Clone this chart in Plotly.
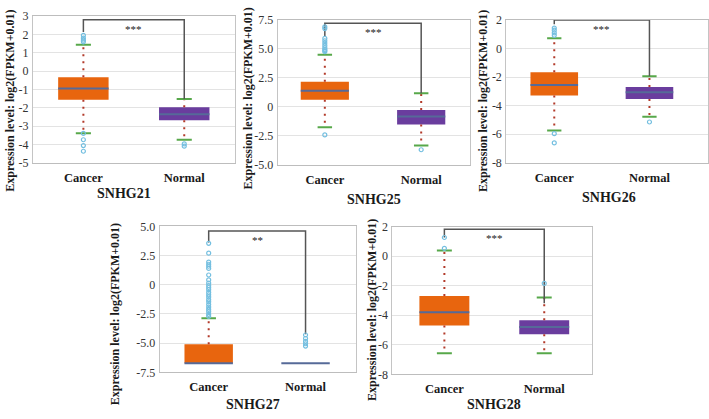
import plotly.graph_objects as go

W, H = 709, 419

genes = ["SNHG21", "SNHG25", "SNHG26", "SNHG27", "SNHG28"]
groups = ["Cancer", "Normal"]

# box statistics: [lower whisker, Q1, median, Q3, upper whisker]
snhg21_cancer = [-3.40, -1.57, -0.95, -0.34, 1.44]
snhg21_normal = [-3.75, -2.69, -2.36, -1.97, -1.52]
snhg25_cancer = [-1.75, 0.61, 1.38, 2.17, 4.50]
snhg25_normal = [-3.33, -1.53, -0.83, -0.28, 1.17]
snhg26_cancer = [-5.74, -3.30, -2.56, -1.67, 0.73]
snhg26_normal = [-4.79, -3.53, -3.07, -2.69, -1.95]
snhg27_cancer = [-6.72, -6.72, -6.72, -5.09, -2.86]
snhg27_normal = [-6.72, -6.72, -6.72, -6.72, -6.72]
snhg28_cancer = [-6.58, -4.69, -3.80, -2.69, 0.38]
snhg28_normal = [-6.58, -5.29, -4.80, -4.33, -2.80]

# outliers
snhg21_cancer_out = [1.95, 1.80, 1.69, 1.60, -3.40, -3.75, -4.07, -4.38]
snhg21_normal_out = [-3.98, -4.10]
snhg25_cancer_out = [6.90, 6.75, 5.90, 5.70, 5.50, 5.30, 5.10, 4.95, 4.85, 4.75, -2.42]
snhg25_normal_out = [-3.70]
snhg26_cancer_out = [1.44, 1.29, 1.10, 0.93, -5.97, -6.62]
snhg26_normal_out = [-5.15]
snhg27_cancer_out = [3.55, 2.71, 1.95, 1.76, 1.59, 1.40, 0.84, 0.42, 0.14, -0.06,
                     -0.23, -0.42, -0.65, -0.85, -1.04, -1.27, -1.46, -1.69, -1.91,
                     -2.11, -2.30, -2.53, -2.70]
snhg27_normal_out = [-4.30, -4.60, -4.85, -5.05, -5.25]
snhg28_cancer_out = [1.27, 0.53]
snhg28_normal_out = [-1.84]

# significance brackets
sig_labels = ["***", "***", "***", "**", "***"]
bracket_top = [2.80, 7.20, 2.00, 4.60, 1.82]
bracket_left_end = [2.13, 6.10, 1.70, 3.63, 1.27]
bracket_right_end = [-1.52, 1.17, -1.95, -4.23, -3.18]

# y-axis ticks
snhg21_ticks = [3, 2, 1, 0, -1, -2, -3, -4, -5]
snhg21_ticktext = ["3", "2", "1", "0", "-1", "-2", "-3", "-4", "-5"]
snhg25_ticks = [7.5, 5.0, 2.5, 0, -2.5, -5.0]
snhg25_ticktext = ["7.5", "5.0", "2.5", "0", "-2.5", "-5.0"]
snhg26_ticks = [2, 0, -2, -4, -6, -8]
snhg26_ticktext = ["2", "0", "-2", "-4", "-6", "-8"]
snhg27_ticks = [5.0, 2.5, 0, -2.5, -5.0, -7.5]
snhg27_ticktext = ["5.0", "2.5", "0", "-2.5", "-5.0", "-7.5"]
snhg28_ticks = [2, 0, -2, -4, -6, -8]
snhg28_ticktext = ["2", "0", "-2", "-4", "-6", "-8"]

ylabel = "Expression level: log2(FPKM+0.01)"

stats = [(snhg21_cancer, snhg21_normal), (snhg25_cancer, snhg25_normal),
         (snhg26_cancer, snhg26_normal), (snhg27_cancer, snhg27_normal),
         (snhg28_cancer, snhg28_normal)]
outs = [(snhg21_cancer_out, snhg21_normal_out), (snhg25_cancer_out, snhg25_normal_out),
        (snhg26_cancer_out, snhg26_normal_out), (snhg27_cancer_out, snhg27_normal_out),
        (snhg28_cancer_out, snhg28_normal_out)]
ticks = [(snhg21_ticks, snhg21_ticktext), (snhg25_ticks, snhg25_ticktext),
         (snhg26_ticks, snhg26_ticktext), (snhg27_ticks, snhg27_ticktext),
         (snhg28_ticks, snhg28_ticktext)]

# layout (pixels): x domain, y domain (top, bottom), x range, y range
panels = [
    dict(xd=(33, 235), yd=(9.5, 161), xr=(-0.5, 1.5), yr=(-5, 3),
         ylab=(10, 97), title=(124, 193)),
    dict(xd=(278, 471), yd=(13.3, 163.3), xr=(-0.49, 1.51), yr=(-5, 7.5),
         ylab=(248, 95), title=(375, 199)),
    dict(xd=(507, 709), yd=(13.5, 161), xr=(-0.504, 1.615), yr=(-8, 2),
         ylab=(483, 97), title=(610, 197)),
    dict(xd=(160, 357), yd=(227, 378), xr=(-0.505, 1.526), yr=(-7.5, 5),
         ylab=(116, 318), title=(253, 411)),
    dict(xd=(393, 593), yd=(227.3, 380), xr=(-0.52, 1.48), yr=(-8, 2),
         ylab=(372, 313), title=(495, 411)),
]

box_colors = ["#E8650E", "#6A3D9E"]
median_color = "#566A98"
whisker_color = "#B23A2A"
cap_color = "#57A84A"
outlier_color = "#74BFE0"
bracket_color = "#555555"
font_serif = "'Liberation Serif', 'Times New Roman', 'DejaVu Serif', serif"

BOX_W = 0.5
CAP_HW = 0.075

fig = go.Figure()
layout = dict(width=W, height=H, margin=dict(l=0, r=0, t=0, b=0),
              paper_bgcolor="white", plot_bgcolor="white", showlegend=False,
              annotations=[])

for i, p in enumerate(panels):
    n = i + 1
    xa, ya = f"x{n}", f"y{n}"
    (c_st, n_st) = stats[i]
    xs = [0, 1]
    sts = [c_st, n_st]

    # whiskers (dotted)
    wx, wy = [], []
    for x, s in zip(xs, sts):
        if s[4] > s[3]:
            wx += [x, x, None]
            wy += [s[3], s[4], None]
        if s[0] < s[1]:
            wx += [x, x, None]
            wy += [s[1], s[0], None]
    fig.add_trace(go.Scatter(x=wx, y=wy, mode="lines", xaxis=xa, yaxis=ya,
                             line=dict(color=whisker_color, width=2, dash="2px,5px"),
                             hoverinfo="skip"))
    # boxes
    fig.add_trace(go.Bar(x=xs, y=[s[3] - s[1] for s in sts], base=[s[1] for s in sts],
                         width=BOX_W, marker=dict(color=box_colors, line=dict(width=0)),
                         xaxis=xa, yaxis=ya, hoverinfo="skip"))
    # caps
    cx, cy = [], []
    for x, s in zip(xs, sts):
        if s[4] > s[3]:
            cx += [x - CAP_HW, x + CAP_HW, None]
            cy += [s[4], s[4], None]
        if s[0] < s[1]:
            cx += [x - CAP_HW, x + CAP_HW, None]
            cy += [s[0], s[0], None]
    fig.add_trace(go.Scatter(x=cx, y=cy, mode="lines", xaxis=xa, yaxis=ya,
                             line=dict(color=cap_color, width=2), hoverinfo="skip"))
    # medians
    mx, my = [], []
    for x, s in zip(xs, sts):
        mx += [x - BOX_W / 2, x + BOX_W / 2, None]
        my += [s[2], s[2], None]
    fig.add_trace(go.Scatter(x=mx, y=my, mode="lines", xaxis=xa, yaxis=ya,
                             line=dict(color=median_color, width=2), hoverinfo="skip"))
    # bracket
    fig.add_trace(go.Scatter(x=[0, 0, 1, 1],
                             y=[bracket_left_end[i], bracket_top[i], bracket_top[i],
                                bracket_right_end[i]],
                             mode="lines", xaxis=xa, yaxis=ya,
                             line=dict(color=bracket_color, width=1.5), hoverinfo="skip"))
    # outliers
    ox, oy = [], []
    for x, o in zip(xs, outs[i]):
        ox += [x] * len(o)
        oy += o
    fig.add_trace(go.Scatter(x=ox, y=oy, mode="markers", xaxis=xa, yaxis=ya,
                             marker=dict(symbol="circle-open", size=4, color=outlier_color,
                                         line=dict(width=1.2)),
                             hoverinfo="skip"))

    xkey = "xaxis" if n == 1 else f"xaxis{n}"
    ykey = "yaxis" if n == 1 else f"yaxis{n}"
    layout[xkey] = dict(domain=[p["xd"][0] / W, p["xd"][1] / W], anchor=ya,
                        range=list(p["xr"]), tickvals=[0, 1],
                        ticktext=[f"<b>{g}</b>" for g in groups],
                        ticks="outside", ticklen=3, tickcolor="rgba(0,0,0,0)",
                        tickfont=dict(family=font_serif, size=12.5, color="#1a1a1a"),
                        showgrid=False, zeroline=False, showline=True, mirror=True,
                        linecolor="#BDBDBD", linewidth=1, fixedrange=True)
    layout[ykey] = dict(domain=[1 - p["yd"][1] / H, 1 - p["yd"][0] / H], anchor=xa,
                        range=list(p["yr"]), tickvals=ticks[i][0], ticktext=ticks[i][1],
                        ticks="outside", ticklen=1, tickcolor="rgba(0,0,0,0)",
                        tickfont=dict(family=font_serif, size=12, color="#333333"),
                        showgrid=True, gridcolor="#E3E3E3", gridwidth=1,
                        zeroline=False, showline=True, mirror=True,
                        linecolor="#C4C4C4", linewidth=1, fixedrange=True)

    layout["annotations"].append(dict(
        text=f"<b>{ylabel}</b>", textangle=-90, xref="paper", yref="paper",
        x=p["ylab"][0] / W, y=1 - p["ylab"][1] / H, xanchor="center", yanchor="middle",
        showarrow=False, font=dict(family=font_serif, size=12, color="#1a1a1a")))
    layout["annotations"].append(dict(
        text=f"<b>{genes[i]}</b>", xref="paper", yref="paper",
        x=p["title"][0] / W, y=1 - p["title"][1] / H, xanchor="center", yanchor="middle",
        showarrow=False, font=dict(family=font_serif, size=14, color="#1a1a1a")))
    layout["annotations"].append(dict(
        text=sig_labels[i], xref=xa, yref=ya, x=0.5, y=bracket_top[i],
        xanchor="center", yanchor="top", yshift=-1, showarrow=False,
        font=dict(family=font_serif, size=11, color="#222222")))

fig.update_layout(**layout)
fig.write_html("out.html")
